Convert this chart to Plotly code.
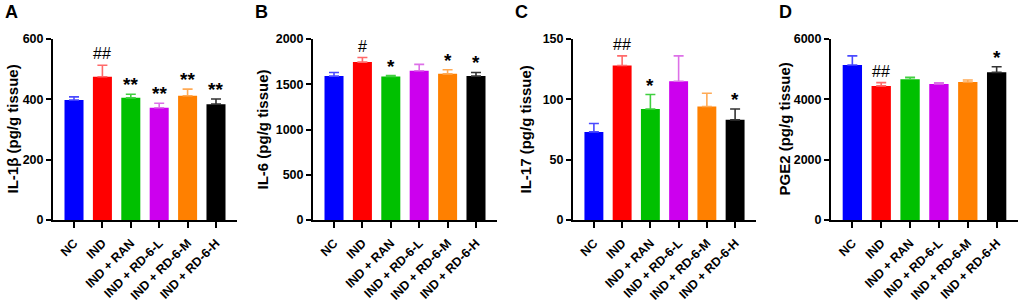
import plotly.graph_objects as go

W, H = 1024, 304

groups = ["NC", "IND", "IND + RAN", "IND + RD-6-L", "IND + RD-6-M", "IND + RD-6-H"]
bar_colors = ["#0000ff", "#ff0000", "#00c000", "#cc00ee", "#ff8000", "#000000"]
err_colors = ["#4a4aff", "#ff6a6a", "#40d040", "#dd70e8", "#ffaa55", "#333333"]

il1b_mean = [398, 475, 405, 372, 412, 384]
il1b_err = [10, 38, 12, 15, 22, 17]
il1b_sig = ["", "##", "**", "**", "**", "**"]

il6_mean = [1590, 1745, 1585, 1650, 1615, 1590]
il6_err = [40, 50, 10, 70, 45, 40]
il6_sig = ["", "#", "*", "", "*", "*"]

il17_mean = [73, 128, 92, 115, 94, 83]
il17_err = [7, 8, 12, 21, 11, 9]
il17_sig = ["", "##", "*", "", "", "*"]

pge2_mean = [5140, 4445, 4665, 4510, 4575, 4895]
pge2_err = [300, 110, 65, 40, 65, 185]
pge2_sig = ["", "##", "", "", "", "*"]

panels = [
    ("A", "IL-1β (pg/g tissue)", il1b_mean, il1b_err, il1b_sig, [0, 600], [0, 200, 400, 600], (53, 237), 12, 3),
    ("B", "IL-6 (pg/g tissue)", il6_mean, il6_err, il6_sig, [0, 2000], [0, 500, 1000, 1500, 2000], (313, 497), 262, 253),
    ("C", "IL-17 (pg/g tissue)", il17_mean, il17_err, il17_sig, [0, 150], [0, 50, 100, 150], (573, 756), 525, 513),
    ("D", "PGE2 (pg/g tissue)", pge2_mean, pge2_err, pge2_sig, [0, 6000], [0, 2000, 4000, 6000], (831, 1018), 784, 777),
]

FONT = "Liberation Sans, Arial, sans-serif"
y_dom = [(H - 220) / H, (H - 39) / H]

fig = go.Figure()
layout = dict(
    width=W, height=H, margin=dict(l=0, r=0, t=0, b=0, autoexpand=False),
    paper_bgcolor="white", plot_bgcolor="white", showlegend=False,
    font=dict(family=FONT, color="black"),
)
annotations = []
xpos = list(range(len(groups)))

for i, (letter, ytitle, mean, err, sig, yr, yt, (x0, x1), title_x, letter_x) in enumerate(panels):
    n = "" if i == 0 else str(i + 1)
    xa, ya = "x" + n, "y" + n
    for j in range(len(groups)):
        fig.add_trace(go.Bar(
            x=[xpos[j]], y=[mean[j]], width=0.67,
            marker=dict(color=bar_colors[j], line=dict(width=0)),
            error_y=dict(type="data", symmetric=False, array=[err[j]], arrayminus=[0],
                         color=err_colors[j], thickness=1.6, width=5),
            xaxis=xa, yaxis=ya,
        ))
        if sig[j]:
            is_hash = "#" in sig[j]
            annotations.append(dict(
                x=xpos[j], y=mean[j] + err[j], xref=xa, yref=ya,
                text=sig[j], showarrow=False, yanchor="bottom", xanchor="center",
                yshift=1 if is_hash else -3,
                font=dict(family=FONT, size=16 if is_hash else 19,
                          weight="normal" if is_hash else "bold", color="black"),
            ))
    layout["xaxis" + n] = dict(
        domain=[x0 / W, x1 / W], range=[-0.74, 5.74], anchor=ya,
        tickvals=xpos, ticktext=groups, tickangle=-45, automargin=False,
        tickfont=dict(family=FONT, size=12.5, weight="bold"), ticklabelstandoff=3,
        showline=True, linecolor="black", linewidth=2,
        ticks="outside", ticklen=6, tickwidth=2, tickcolor="black",
        showgrid=False, zeroline=False, fixedrange=True,
    )
    layout["yaxis" + n] = dict(
        domain=y_dom, range=yr, anchor=xa, tickvals=yt, automargin=False,
        tickfont=dict(family=FONT, size=12.5, weight="bold"),
        showline=True, linecolor="black", linewidth=2,
        ticks="outside", ticklen=5, tickwidth=2, tickcolor="black",
        showgrid=False, zeroline=False, fixedrange=True,
    )
    # y-axis title
    annotations.append(dict(
        x=title_x / W, y=(y_dom[0] + y_dom[1]) / 2, xref="paper", yref="paper",
        text=ytitle, textangle=-90, showarrow=False, xanchor="center", yanchor="middle",
        font=dict(family=FONT, size=15, weight="bold", color="black"),
    ))
    # panel letter
    annotations.append(dict(
        x=letter_x / W, y=1, xref="paper", yref="paper",
        text=letter, showarrow=False, xanchor="left", yanchor="top",
        font=dict(family=FONT, size=18, weight="bold", color="black"),
    ))

layout["annotations"] = annotations
fig.update_layout(**layout)
fig.write_html(
    "out.html",
    config={"displayModeBar": False},
    post_script="document.body.style.margin='0';document.body.style.overflow='hidden';",
)
